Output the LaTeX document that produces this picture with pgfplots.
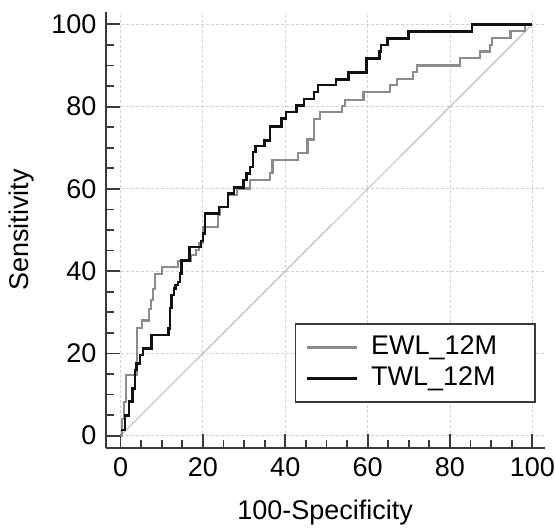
\documentclass[border=0pt]{standalone}
\usepackage{fontspec}
\setmainfont{Liberation Sans}
\usepackage{pgfplots}
\pgfplotsset{compat=1.18}

\definecolor{spine}{HTML}{3A3A3A}
\definecolor{ewl}{HTML}{8C8C8C}
\definecolor{twl}{HTML}{111111}

\begin{document}
\begin{tikzpicture}
\fontsize{13.5}{16}\selectfont
\path[use as bounding box] (-52.85pt,-39.5pt) rectangle (224.65pt,224pt);
\begin{axis}[
    at={(0pt,0pt)}, anchor=south west,
    scale only axis,
    width=219.5pt, height=218pt,
    xmin=-3.6, xmax=103, ymin=-3, ymax=103,
    axis lines=left,
    axis line style={-, spine, line width=1.2pt},
    tick align=inside,
    major tick length=7pt, minor tick length=4pt,
    every tick/.style={spine, line width=0.9pt},
    xtick={0,20,...,100}, ytick={0,20,...,100},
    minor tick num=3,
    grid=major,
    major grid style={gray!35, line width=0.4pt, dash pattern=on 1.5pt off 1pt},
    ticklabel style={font=\fontsize{13.5}{16}\selectfont},
    /pgf/number format/assume math mode=true,
    xlabel={100-Specificity}, ylabel={Sensitivity},
    xlabel style={at={(axis description cs:0.5,-0.148)}, anchor=center, font=\fontsize{13.5}{16}\selectfont},
    ylabel style={at={(axis description cs:-0.191,0.5)}, anchor=center, rotate=0, font=\fontsize{13.5}{16}\selectfont},
    legend cell align=left,
    legend style={at={(0.98,0.104)}, anchor=south east, draw=spine, line width=0.8pt,
        fill=white, font=\fontsize{13.5}{16}\selectfont,
        row sep=1pt, column sep=4.5pt, inner xsep=5pt, inner ysep=4.5pt,
        nodes={inner ysep=1.5pt, inner xsep=2pt}},
    every axis plot post/.append style={legend image code/.code={\draw[##1] (0pt,0pt) -- (25pt,0pt);}},
]
\addplot[gray!55, line width=0.5pt, forget plot] coordinates {(0,0) (100,100)};

\addplot[ewl, line width=1.05pt, const plot] coordinates {
(0,0) (0.4,4) (0.8,8.2) (1.3,14.7) (3.9,26.1) (5.2,28.0) (7.0,30.9) (7.5,33.0)
(7.9,35.6) (8.4,39.4) (10.0,40.9) (14.0,42.5) (17.0,43.9) (18.3,45.2) (19.1,46.8)
(20.1,50.8) (23.7,53.6) (24.1,55.6) (26.1,58.5) (28.2,60.1) (31.4,62.1) (36.3,63.8)
(36.9,67.1) (43.2,68.8) (45.4,72.0) (47.0,76.9) (48.5,78.6) (53.8,80.2) (54.4,81.7)
(59.0,83.5) (65.5,85.2) (67.1,86.8) (71.1,88.5) (72.0,90.0) (82.5,91.8) (87.3,93.4)
(89.7,95.0) (90.1,96.6) (94.7,98.3) (98.2,100) (100,100)
};
\addlegendentry{\makebox[75pt][l]{EWL\_12M}}

\addplot[twl, line width=1.25pt, const plot] coordinates {
(0,1.4) (1.1,4.9) (2.1,8.3) (2.9,11.5) (3.5,16.0) (3.9,17.6) (4.7,19.6) (5.5,21.2)
(7.5,24.5) (11.6,26.1) (12.0,31.0) (12.4,34.2) (13.0,35.8) (13.4,36.6) (14.0,37.4)
(14.4,39.4) (14.8,42.6) (16.8,45.9) (19.5,47.3) (20.0,49.2) (20.5,54.0) (23.9,55.6)
(26.1,58.9) (27.5,60.3) (29.8,62.1) (30.6,63.7) (31.4,65.3) (32.2,69.0) (32.8,70.4)
(35.0,71.8) (36.3,75.2) (39.1,77.1) (40.2,78.7) (42.7,80.3) (44.5,81.8) (47.0,83.6)
(48.0,85.2) (52.3,86.6) (55.3,88.3) (59.7,91.7) (62.9,93.4) (63.2,95.0) (64.8,96.6)
(69.9,98.3) (85.3,100) (100,100)
};
\addlegendentry{\makebox[75pt][l]{TWL\_12M}}
\end{axis}
\end{tikzpicture}
\end{document}
